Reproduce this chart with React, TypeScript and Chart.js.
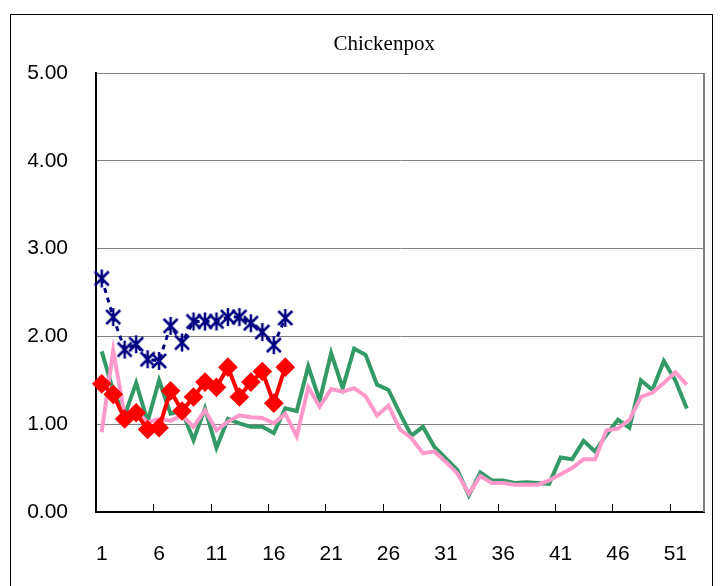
import React, { useEffect, useRef } from 'react';
import { Chart, registerables } from 'chart.js';

Chart.register(...registerables);

const titleText = 'Chickenpox';

const weeks = ['1','2','3','4','5','6','7','8','9','10','11','12','13','14','15','16','17','18','19','20',
  '21','22','23','24','25','26','27','28','29','30','31','32','33','34','35','36','37','38','39','40',
  '41','42','43','44','45','46','47','48','49','50','51','52','53'];

const navySeries = [2.66, 2.22, 1.85, 1.91, 1.74, 1.72, 2.12, 1.93, 2.17, 2.17, 2.17, 2.22, 2.22, 2.15, 2.05, 1.90, 2.21];

const redSeries = [1.46, 1.34, 1.06, 1.13, 0.94, 0.96, 1.38, 1.15, 1.31, 1.48, 1.42, 1.65, 1.31, 1.48, 1.60, 1.24, 1.65];

const greenSeries = [
  1.83, 1.38, 1.10, 1.47, 1.03, 1.50, 1.12, 1.15, 0.82, 1.18,
  0.73, 1.06, 1.01, 0.97, 0.97, 0.90, 1.18, 1.15, 1.66, 1.27,
  1.81, 1.41, 1.86, 1.79, 1.45, 1.39, 1.12, 0.87, 0.97, 0.74,
  0.61, 0.48, 0.19, 0.45, 0.36, 0.36, 0.33, 0.34, 0.33, 0.32,
  0.62, 0.60, 0.81, 0.69, 0.88, 1.05, 0.96, 1.50, 1.39, 1.72,
  1.50, 1.18,
];

const pinkSeries = [
  0.91, 1.84, 1.10, 1.15, 1.02, 1.06, 1.04, 1.10, 0.97, 1.16,
  0.93, 1.03, 1.10, 1.08, 1.07, 1.01, 1.12, 0.86, 1.42, 1.20,
  1.40, 1.37, 1.41, 1.32, 1.10, 1.21, 0.94, 0.84, 0.67, 0.69,
  0.57, 0.44, 0.21, 0.41, 0.33, 0.33, 0.31, 0.31, 0.31, 0.36,
  0.43, 0.50, 0.60, 0.60, 0.93, 0.95, 1.05, 1.31, 1.36, 1.47,
  1.59, 1.45,
];

const yMin = 0;
const yMax = 5;
const yStep = 1;
const xTickEvery = 5;

function makeStar(): HTMLCanvasElement {
  const c = document.createElement('canvas');
  c.width = 18;
  c.height = 20;
  const g = c.getContext('2d')!;
  g.strokeStyle = '#000080';
  g.lineWidth = 2.5;
  g.beginPath();
  g.moveTo(2, 3); g.lineTo(16, 17);
  g.moveTo(16, 3); g.lineTo(2, 17);
  g.moveTo(9, 1); g.lineTo(9, 19);
  g.stroke();
  return c;
}

const framePlugin = {
  id: 'framePlugin',
  beforeDatasetsDraw(chart: any) {
    const { ctx, chartArea } = chart;
    const { right, top, bottom } = chartArea;
    const xs = chart.scales.x;
    ctx.save();
    ctx.strokeStyle = '#808080';
    ctx.lineWidth = 2;
    ctx.beginPath();
    ctx.moveTo(right, top);
    ctx.lineTo(right, bottom);
    ctx.stroke();
    ctx.strokeStyle = '#000';
    ctx.lineWidth = 1;
    ctx.beginPath();
    for (let k = xTickEvery; k < weeks.length; k += xTickEvery) {
      const px = Math.round(xs.getPixelForValue(k - 0.5)) + 0.5;
      ctx.moveTo(px, bottom);
      ctx.lineTo(px, bottom - 8);
    }
    ctx.stroke();
    ctx.restore();
  },
  afterDraw(chart: any) {
    const { ctx, chartArea } = chart;
    const { left, right } = chartArea;
    ctx.save();
    ctx.fillStyle = '#000';
    ctx.font = '21px "Liberation Serif"';
    ctx.textAlign = 'center';
    ctx.textBaseline = 'middle';
    ctx.fillText(titleText, left + (right - left) * 0.474, 44);
    ctx.restore();
  },
};

export default function App() {
  const ref = useRef<HTMLCanvasElement>(null);

  useEffect(() => {
    if (!ref.current) return;
    const star = makeStar();
    const font = { family: '"Liberation Sans", Arial, sans-serif', size: 21 };
    const chart = new Chart(ref.current, {
      type: 'line',
      data: {
        labels: weeks,
        datasets: [
          {
            data: navySeries,
            borderColor: '#000080',
            backgroundColor: '#000080',
            borderWidth: 3,
            borderDash: [5, 5],
            pointStyle: star as any,
            pointRadius: 9,
            tension: 0,
            fill: false,
          },
          {
            data: redSeries,
            borderColor: '#FF0000',
            backgroundColor: '#FF0000',
            pointBorderColor: '#FF0000',
            borderWidth: 4,
            pointStyle: 'rectRot',
            pointRadius: 7,
            tension: 0,
            fill: false,
          },
          {
            data: pinkSeries,
            borderColor: '#FF99CC',
            borderWidth: 4,
            pointRadius: 0,
            tension: 0,
            fill: false,
          },
          {
            data: greenSeries,
            borderColor: '#339966',
            borderWidth: 4,
            pointRadius: 0,
            tension: 0,
            fill: false,
          },
        ],
      },
      options: {
        responsive: false,
        animation: false,
        devicePixelRatio: 1,
        layout: { padding: { top: 73, right: 17, left: 0, bottom: 0 } },
        plugins: {
          legend: { display: false },
          title: { display: false },
          tooltip: { enabled: false },
        },
        scales: {
          x: {
            type: 'category',
            offset: true,
            grid: {
              offset: true,
              drawOnChartArea: false,
              drawTicks: true,
              tickLength: 30,
              color: 'rgba(0,0,0,0)',
              lineWidth: 1,
            },
            border: { color: '#000', width: 2 },
            ticks: {
              autoSkip: false,
              maxRotation: 0,
              minRotation: 0,
              padding: 0,
              color: '#000',
              font,
              callback: (_v: any, i: number) => (i % xTickEvery === 0 ? weeks[i] : ''),
            },
            afterFit: (s: any) => { s.height = 74; },
          },
          y: {
            min: yMin,
            max: yMax,
            ticks: {
              stepSize: yStep,
              padding: 28,
              color: '#000',
              font,
              callback: (v: any) => Number(v).toFixed(2),
            },
            grid: { color: '#808080', lineWidth: 1, drawTicks: false },
            border: { color: '#000', width: 2 },
            afterFit: (s: any) => { s.width = 96; },
          },
        },
      },
      plugins: [framePlugin],
    });
    return () => chart.destroy();
  }, []);

  return (
    <div style={{ position: 'absolute', left: 0, top: 0, width: 721, height: 586, overflow: 'hidden', background: '#fff' }}>
      <div style={{ position: 'absolute', left: 10, top: 14, width: 703, height: 620, border: '1px solid #000', boxSizing: 'border-box' }} />
      <canvas ref={ref} width={721} height={586} style={{ position: 'absolute', left: 0, top: 0, width: 721, height: 586 }} />
    </div>
  );
}
